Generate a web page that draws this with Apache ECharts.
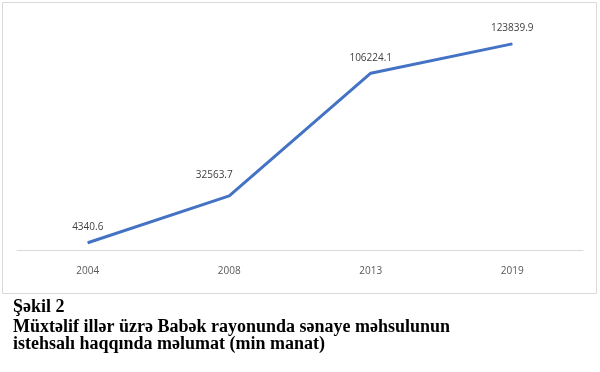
<!DOCTYPE html>
<html><head><meta charset="utf-8">
<script src="https://cdn.jsdelivr.net/npm/echarts@6/dist/echarts.min.js"></script>
<style>html,body{margin:0;padding:0;background:#fff}#c{width:600px;height:372px}</style>
</head><body><div id="c"></div>
<script>
const categories = ['2004', '2008', '2013', '2019'];
const values = [4340.6, 32563.7, 106224.1, 123839.9];
const captionLines = ['Şəkil 2', 'Müxtəlif illər üzrə Babək rayonunda sənaye məhsulunun', 'istehsalı haqqında məlumat (min manat)'];

const labelOffsets = [[0, 0], [-15, -5], [0, 0], [0, 0]];
const seriesData = values.map((v, i) => ({value: v, label: {offset: labelOffsets[i]}}));

const chart = echarts.init(document.getElementById('c'), null, {renderer: 'canvas'});
chart.setOption({
  animation: false,
  backgroundColor: '#fff',
  grid: {left: 17, right: 17, top: 17, bottom: 122},
  xAxis: {
    type: 'category', data: categories, boundaryGap: true,
    axisLine: {show: true, lineStyle: {color: '#d9d9d9', width: 1}},
    axisTick: {show: false},
    axisLabel: {color: '#595959', fontSize: 10, fontFamily: 'Open Sans', margin: 16}
  },
  yAxis: {type: 'value', min: 0, max: 140000, show: false, splitLine: {show: false}},
  series: [{
    type: 'line', data: seriesData, symbol: 'circle', symbolSize: 1, showSymbol: true,
    itemStyle: {color: '#4472C4'},
    lineStyle: {color: '#4472C4', width: 3},
    label: {show: true, position: 'top', distance: 10, color: '#404040', fontSize: 10, fontFamily: 'Open Sans',
      formatter: p => String(p.value)}
  }],
  graphic: [
    {type: 'rect', shape: {x: 2.5, y: 2.5, width: 594, height: 291}, style: {fill: 'none', stroke: '#d9d9d9', lineWidth: 1}, z: -1},
    {type: 'text', left: 13, top: 298.5, style: {text: captionLines[0], font: 'bold 18px "Liberation Serif"', fill: '#000'}},
    {type: 'text', left: 13, top: 318.5, style: {text: captionLines[1], font: 'bold 18px "Liberation Serif"', fill: '#000'}},
    {type: 'text', left: 13, top: 335.5, style: {text: captionLines[2], font: 'bold 18px "Liberation Serif"', fill: '#000'}}
  ]
});
</script></body></html>
